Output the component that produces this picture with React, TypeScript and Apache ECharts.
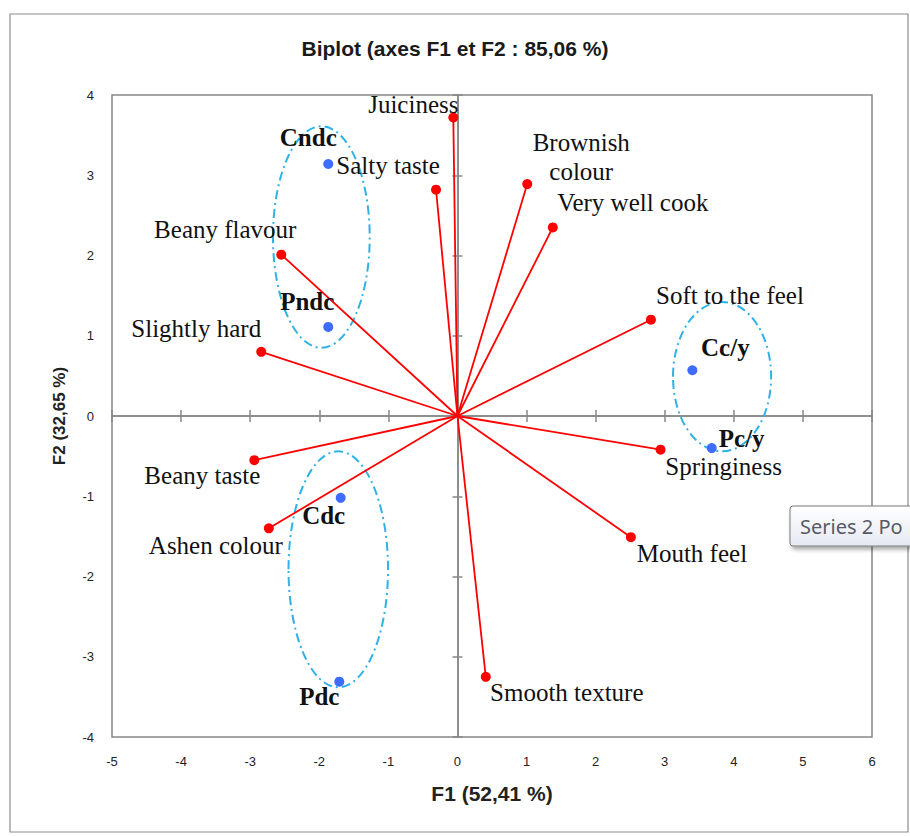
import React, { useEffect, useRef } from "react";
import * as echarts from "echarts";

// ---- Data ----
const variableNames = [
  "Juiciness",
  "Salty taste",
  "Brownish\ncolour",
  "Very well cook",
  "Soft to the feel",
  "Springiness",
  "Mouth feel",
  "Smooth texture",
  "Ashen colour",
  "Beany taste",
  "Slightly hard",
  "Beany flavour",
];
const variableF1 = [-0.06, -0.31, 1.01, 1.38, 2.8, 2.94, 2.51, 0.41, -2.73, -2.94, -2.84, -2.55];
const variableF2 = [3.72, 2.82, 2.89, 2.35, 1.2, -0.42, -1.51, -3.25, -1.4, -0.55, 0.8, 2.01];

const obsNames = ["Cndc", "Pndc", "Cc/y", "Pc/y", "Cdc", "Pdc"];
const obsF1 = [-1.87, -1.87, 3.4, 3.68, -1.69, -1.71];
const obsF2 = [3.14, 1.11, 0.57, -0.4, -1.02, -3.31];

// group ellipses (centre and half-extent, in axis units)
const groupCentreF1 = [-1.97, -1.725, 3.83];
const groupCentreF2 = [2.23, -1.91, 0.49];
const groupHalfF1 = [0.7, 0.72, 0.71];
const groupHalfF2 = [1.38, 1.47, 0.93];

const xRange = [-5, 6];
const yRange = [-4, 4];

// ---- Layout (label offsets in px) ----
const variableLabelOffsets = [
  [-40, -13], [-48, -24], [54, -27], [80, -25], [79, -24], [63, 17],
  [61, 16], [81, 16], [-53, 17], [-52, 15], [-65, -23], [-56, -25],
];
const obsLabelOffsets = [[-20, -27], [-21, -25], [33, -23], [30, -10], [-17, 18], [-20, 15]];

const AXIS_GREY = "#878787";
const SERIF = "'Liberation Serif', 'Times New Roman', serif";
const SANS = "'Liberation Sans', Arial, sans-serif";

export default function App() {
  const ref = useRef<HTMLDivElement>(null);

  useEffect(() => {
    if (!ref.current) return;
    const chart = echarts.init(ref.current, undefined, { renderer: "svg" });

    const baseX = { type: "value", min: xRange[0], max: xRange[1], interval: 1, splitLine: { show: false } };
    const baseY = { type: "value", min: yRange[0], max: yRange[1], interval: 1, splitLine: { show: false } };

    const option: any = {
      animation: false,
      backgroundColor: "#ffffff",
      title: {
        text: "Biplot (axes F1 et F2 : 85,06 %)",
        left: "center",
        top: 33,
        textStyle: { fontFamily: SANS, fontSize: 21, fontWeight: "bold", color: "#1a1a1a" },
      },
      grid: {
        left: 112,
        top: 95,
        width: 760,
        height: 642,
        show: true,
        borderColor: AXIS_GREY,
        borderWidth: 1.5,
        backgroundColor: "transparent",
      },
      xAxis: [
        {
          ...baseX,
          position: "bottom",
          axisLine: { show: false, onZero: false },
          axisTick: { show: false },
          axisLabel: { margin: 18, color: "#222", fontSize: 13, fontFamily: SANS },
          name: "F1 (52,41 %)",
          nameLocation: "middle",
          nameGap: 46,
          nameTextStyle: { fontFamily: SANS, fontSize: 21, fontWeight: "bold", color: "#222" },
        },
        {
          ...baseX,
          position: "bottom",
          axisLine: { show: true, onZero: true, onZeroAxisIndex: 0, lineStyle: { color: AXIS_GREY, width: 1.5 } },
          axisTick: { show: true, inside: true, length: 6, lineStyle: { color: AXIS_GREY, width: 1.5 } },
          axisLabel: { show: false },
        },
        {
          ...baseX,
          position: "bottom",
          axisLine: { show: true, onZero: true, onZeroAxisIndex: 0, lineStyle: { color: AXIS_GREY, width: 1.5 } },
          axisTick: { show: true, inside: false, length: 6, lineStyle: { color: AXIS_GREY, width: 1.5 } },
          axisLabel: { show: false },
        },
      ],
      yAxis: [
        {
          ...baseY,
          position: "left",
          axisLine: { show: false, onZero: false },
          axisTick: { show: false },
          axisLabel: { margin: 18, color: "#222", fontSize: 13, fontFamily: SANS },
          name: "F2 (32,65 %)",
          nameLocation: "middle",
          nameGap: 44,
          nameRotate: 90,
          nameTextStyle: { fontFamily: SANS, fontSize: 17, fontWeight: "bold", color: "#222" },
        },
        {
          ...baseY,
          position: "left",
          axisLine: { show: true, onZero: true, onZeroAxisIndex: 0, lineStyle: { color: AXIS_GREY, width: 1.5 } },
          axisTick: { show: true, inside: true, length: 5, lineStyle: { color: AXIS_GREY, width: 1.5 } },
          axisLabel: { show: false },
        },
        {
          ...baseY,
          position: "left",
          axisLine: { show: true, onZero: true, onZeroAxisIndex: 0, lineStyle: { color: AXIS_GREY, width: 1.5 } },
          axisTick: { show: true, inside: false, length: 5, lineStyle: { color: AXIS_GREY, width: 1.5 } },
          axisLabel: { show: false },
        },
      ],
      series: [
        {
          type: "custom",
          name: "Groups",
          xAxisIndex: 0,
          yAxisIndex: 0,
          silent: true,
          z: 3,
          data: groupCentreF1.map((cx, i) => [cx, groupCentreF2[i], groupHalfF1[i], groupHalfF2[i]]),
          renderItem: (_params: any, api: any) => {
            const c = api.coord([api.value(0), api.value(1)]);
            const s = api.size([api.value(2), api.value(3)]);
            return {
              type: "ellipse",
              shape: { cx: c[0], cy: c[1], rx: s[0], ry: s[1] },
              style: { fill: "none", stroke: "#2fb2e6", lineWidth: 2, lineDash: [9, 4, 2, 4] },
            };
          },
        },
        {
          type: "lines",
          name: "Vectors",
          coordinateSystem: "cartesian2d",
          xAxisIndex: 0,
          yAxisIndex: 0,
          z: 4,
          silent: true,
          lineStyle: { color: "#ff0000", width: 1.8, opacity: 1 },
          data: variableF1.map((x, i) => ({ coords: [[0, 0], [x, variableF2[i]]] })),
        },
        {
          type: "scatter",
          name: "Variables",
          xAxisIndex: 0,
          yAxisIndex: 0,
          z: 5,
          symbolSize: 10,
          itemStyle: { color: "#ff0000", opacity: 1 },
          label: {
            show: true,
            position: "inside",
            formatter: "{b}",
            fontFamily: SERIF,
            fontSize: 25,
            lineHeight: 29,
            color: "#111",
            align: "center",
          },
          data: variableF1.map((x, i) => ({
            name: variableNames[i],
            value: [x, variableF2[i]],
            label: { offset: variableLabelOffsets[i] },
          })),
        },
        {
          type: "scatter",
          name: "Observations",
          xAxisIndex: 0,
          yAxisIndex: 0,
          z: 6,
          symbolSize: 10,
          itemStyle: { color: "#3d6cff", opacity: 1 },
          label: {
            show: true,
            position: "inside",
            formatter: "{b}",
            fontFamily: SERIF,
            fontSize: 25,
            fontWeight: "bold",
            color: "#111",
            align: "center",
          },
          data: obsF1.map((x, i) => ({
            name: obsNames[i],
            value: [x, obsF2[i]],
            label: { offset: obsLabelOffsets[i] },
          })),
        },
      ],
      graphic: [
        {
          type: "rect",
          z: -10,
          silent: true,
          shape: { x: 10, y: 14, width: 898, height: 818 },
          style: { fill: "none", stroke: "#8c8c8c", lineWidth: 1.2 },
        },
        {
          type: "rect",
          z: 100,
          silent: true,
          shape: { x: 790, y: 506, width: 170, height: 40, r: 3 },
          style: {
            fill: new echarts.graphic.LinearGradient(0, 0, 0, 1, [
              { offset: 0, color: "#ffffff" },
              { offset: 1, color: "#e6e9f2" },
            ]),
            stroke: "#7b7b7b",
            lineWidth: 1,
            shadowBlur: 4,
            shadowOffsetX: 2,
            shadowOffsetY: 3,
            shadowColor: "rgba(0,0,0,0.35)",
          },
        },
        {
          type: "text",
          z: 101,
          silent: true,
          x: 800,
          y: 526,
          style: {
            text: "Series 2 Po",
            fontFamily: "'Noto Sans', 'Open Sans', sans-serif",
            fontSize: 20,
            fill: "#555a66",
            verticalAlign: "middle",
          },
        },
      ],
    };

    chart.setOption(option);
    return () => chart.dispose();
  }, []);

  return (
    <div
      ref={ref}
      style={{ position: "fixed", left: 0, top: 0, width: 910, height: 836 }}
    />
  );
}
